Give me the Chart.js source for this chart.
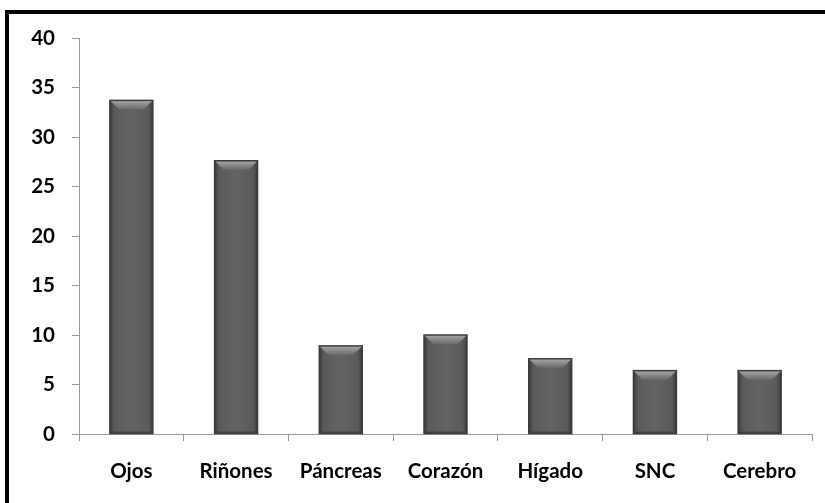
<!DOCTYPE html>
<html>
<head>
<meta charset="utf-8">
<script src="https://cdn.jsdelivr.net/npm/chart.js@4/dist/chart.umd.min.js"></script>
<style>
	html, body { margin: 0; padding: 0; background: #fff; }
	.frame {
		position: absolute;
		left: 5px;
		top: 10px;
		width: 830px;
		height: 510px;
		border-top: 4px solid #000;
		border-left: 4px solid #000;
		box-sizing: border-box;
	}
	.chart-box {
		position: absolute;
		left: 0;
		top: 0;
		width: 825px;
		height: 503px;
	}
</style>
</head>
<body>
<div class="frame"></div>
<div class="chart-box"><canvas id="organChart"></canvas></div>
<script>
const categories = ['Ojos', 'Riñones', 'Páncreas', 'Corazón', 'Hígado', 'SNC', 'Cerebro'];
const values = [33.7, 27.6, 8.9, 10.0, 7.6, 6.4, 6.4];
const yTicks = [0, 5, 10, 15, 20, 25, 30, 35, 40];

const axisColor = '#9a9a9a';
const labelFont = { family: 'Lato', size: 20.5, weight: 'bold' };

// shading so the bars look like the bevelled office-style columns
const bevelPlugin = {
	id: 'bevel',
	afterDatasetsDraw(chart) {
		const { ctx } = chart;
		chart.getDatasetMeta(0).data.forEach((bar) => {
			const left = bar.x - bar.width / 2;
			const right = bar.x + bar.width / 2;
			const top = bar.y;
			const bottom = bar.base;

			ctx.save();
			const side = ctx.createLinearGradient(left, 0, right, 0);
			side.addColorStop(0, '#3a3a3a');
			side.addColorStop(0.1, '#5a5a5a');
			side.addColorStop(0.5, '#646464');
			side.addColorStop(0.9, '#5a5a5a');
			side.addColorStop(1, '#3a3a3a');
			ctx.fillStyle = side;
			ctx.fillRect(left, top, right - left, bottom - top);

			const bevel = 9;
			const topShade = ctx.createLinearGradient(0, top, 0, top + bevel);
			topShade.addColorStop(0, '#a8a8a8');
			topShade.addColorStop(1, '#6a6a6a');
			ctx.fillStyle = topShade;
			ctx.beginPath();
			ctx.moveTo(left, top);
			ctx.lineTo(right, top);
			ctx.lineTo(right - bevel, top + bevel);
			ctx.lineTo(left + bevel, top + bevel);
			ctx.closePath();
			ctx.fill();

			ctx.fillStyle = '#444';
			ctx.fillRect(left, bottom - 2, right - left, 2);

			ctx.strokeStyle = '#3c3c3c';
			ctx.lineWidth = 1.5;
			ctx.strokeRect(left, top, right - left, bottom - top);
			ctx.restore();
		});
	},
};

new Chart(document.getElementById('organChart'), {
	type: 'bar',
	data: {
		labels: categories,
		datasets: [{
			data: values,
			backgroundColor: '#5e5e5e',
			borderWidth: 0,
			barPercentage: 0.41,
			categoryPercentage: 1,
		}],
	},
	options: {
		responsive: true,
		maintainAspectRatio: false,
		animation: false,
		layout: { padding: { left: 0, right: 13, top: 38, bottom: 0 } },
		plugins: {
			legend: { display: false },
			tooltip: { enabled: false },
		},
		scales: {
			x: {
				grid: {
					offset: true,
					drawOnChartArea: false,
					drawTicks: true,
					tickLength: 7,
					color: axisColor,
				},
				border: { display: true, color: axisColor, width: 1 },
				ticks: { color: '#000', font: labelFont, padding: 18 },
				afterFit(scale) { scale.height = 69; },
			},
			y: {
				min: 0,
				max: 40,
				afterBuildTicks(scale) { scale.ticks = yTicks.map((value) => ({ value })); },
				grid: {
					drawOnChartArea: false,
					drawTicks: true,
					tickLength: 7,
					color: axisColor,
				},
				border: { display: true, color: axisColor, width: 1 },
				ticks: { color: '#000', font: labelFont, padding: 17 },
				afterFit(scale) { scale.width = 79; },
			},
		},
	},
	plugins: [bevelPlugin],
});
</script>
</body>
</html>
